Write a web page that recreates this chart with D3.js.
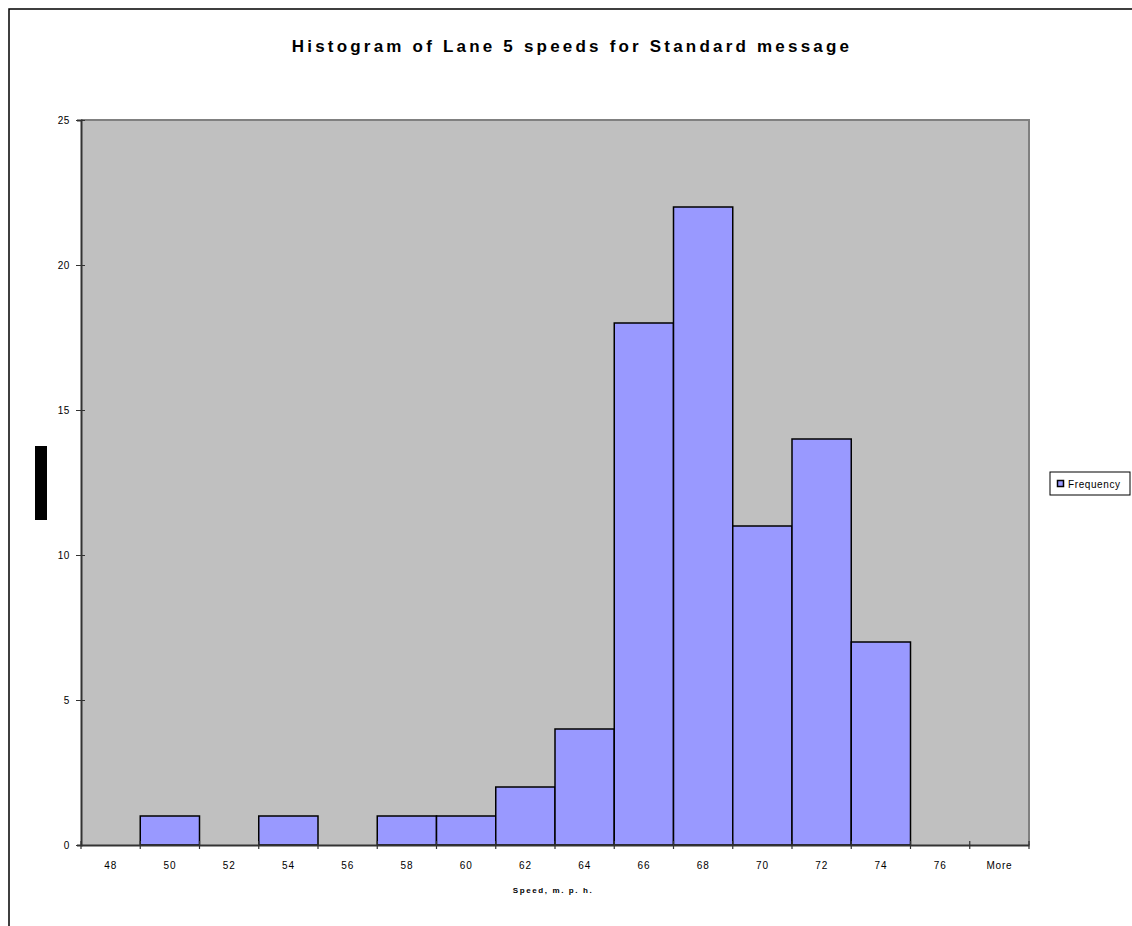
<!DOCTYPE html>
<html>
<head>
<meta charset="utf-8">
<script src="https://cdn.jsdelivr.net/npm/d3@7"></script>
<style>
  html, body { margin: 0; padding: 0; background: #fff; }
  svg { display: block; font-family: "Liberation Sans", Arial, sans-serif; }
</style>
</head>
<body>
<script>
// Speed bins (m.p.h.) and vehicle counts per bin
const bins = ["48", "50", "52", "54", "56", "58", "60", "62", "64", "66", "68", "70", "72", "74", "76", "More"];
const frequency = [0, 1, 0, 1, 0, 1, 1, 2, 4, 18, 22, 11, 14, 7, 0, 0];
const yTicks = [0, 5, 10, 15, 20, 25];
const seriesName = "Frequency";

const W = 1132, H = 926;
const plot = { left: 81, top: 120, right: 1029, bottom: 845 };

const svg = d3.select("body").append("svg")
  .attr("width", W).attr("height", H);

// Outer chart frame
svg.append("rect")
  .attr("x", 9).attr("y", 9)
  .attr("width", W + 20).attr("height", H + 20)
  .attr("fill", "#fff").attr("stroke", "#000").attr("stroke-width", 1.5);

// Title
svg.append("text")
  .attr("x", 572).attr("y", 52)
  .attr("text-anchor", "middle")
  .attr("font-size", 17).attr("font-weight", "bold")
  .attr("letter-spacing", 3.2)
  .text("Histogram of Lane 5 speeds for Standard message");

const x = d3.scaleBand()
  .domain(bins)
  .range([plot.left, plot.right])
  .padding(0);

const y = d3.scaleLinear()
  .domain([0, 25])
  .range([plot.bottom, plot.top]);

// Plot area background
svg.append("rect")
  .attr("x", plot.left).attr("y", plot.top)
  .attr("width", plot.right - plot.left).attr("height", plot.bottom - plot.top)
  .attr("fill", "#C0C0C0");

// Plot area top/right border
svg.append("path")
  .attr("d", `M${plot.left},${plot.top}H${plot.right}V${plot.bottom}`)
  .attr("fill", "none").attr("stroke", "#808080").attr("stroke-width", 2);

// Bars
svg.append("g").selectAll("rect")
  .data(bins.map((b, i) => ({ bin: b, v: frequency[i] })).filter(d => d.v > 0))
  .join("rect")
  .attr("x", d => x(d.bin))
  .attr("y", d => y(d.v))
  .attr("width", x.bandwidth())
  .attr("height", d => y(0) - y(d.v))
  .attr("fill", "#9999FF")
  .attr("stroke", "#000")
  .attr("stroke-width", 1.5);

// Y axis
const yAxis = svg.append("g")
  .attr("transform", `translate(${plot.left},0)`)
  .call(d3.axisLeft(y).tickValues(yTicks).tickSize(4).tickPadding(7));
yAxis.select(".domain").attr("stroke", "#333").attr("stroke-width", 2);
yAxis.selectAll(".tick line").attr("stroke", "#333").attr("x2", -5).attr("x1", 4);
yAxis.selectAll(".tick text")
  .attr("font-size", 10).attr("font-family", "Liberation Sans, Arial, sans-serif")
  .attr("letter-spacing", 0.6).attr("fill", "#000");

// X axis with ticks at bin boundaries
const xAxis = svg.append("g")
  .attr("transform", `translate(0,${plot.bottom})`)
  .call(d3.axisBottom(x).tickSize(0).tickPadding(17));
xAxis.select(".domain").attr("stroke", "#333").attr("stroke-width", 2);
xAxis.selectAll(".tick text")
  .attr("font-size", 10).attr("font-family", "Liberation Sans, Arial, sans-serif")
  .attr("letter-spacing", 0.8).attr("fill", "#000");

const edges = bins.map(b => x(b)).concat([x(bins[bins.length - 1]) + x.bandwidth()]);
svg.append("g").selectAll("line")
  .data(edges)
  .join("line")
  .attr("x1", d => d).attr("x2", d => d)
  .attr("y1", plot.bottom - 4).attr("y2", plot.bottom + 4)
  .attr("stroke", "#333").attr("stroke-width", 1.2);

// X axis title
svg.append("text")
  .attr("x", 553).attr("y", 893)
  .attr("text-anchor", "middle")
  .attr("font-size", 8).attr("font-weight", "bold")
  .attr("letter-spacing", 1.6)
  .text("Speed, m. p. h.");

// Y axis title block
svg.append("rect")
  .attr("x", 35).attr("y", 446)
  .attr("width", 12).attr("height", 74)
  .attr("fill", "#000");

// Legend
const lg = svg.append("g").attr("transform", "translate(1050,472)");
lg.append("rect")
  .attr("width", 80).attr("height", 23)
  .attr("fill", "#fff").attr("stroke", "#000").attr("stroke-width", 1);
lg.append("rect")
  .attr("x", 7.5).attr("y", 8.5).attr("width", 6).attr("height", 6)
  .attr("fill", "#9999FF").attr("stroke", "#000").attr("stroke-width", 1.5);
lg.append("text")
  .attr("x", 18).attr("y", 15.5)
  .attr("font-size", 10)
  .attr("letter-spacing", 0.6)
  .text(seriesName);
</script>
</body>
</html>
